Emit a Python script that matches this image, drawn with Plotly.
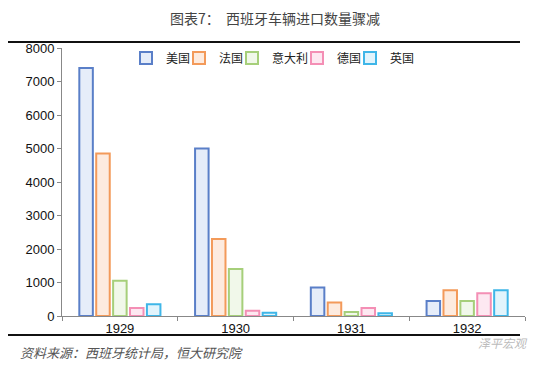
import plotly.graph_objects as go

years = ["1929", "1930", "1931", "1932"]
countries = ["美国", "法国", "意大利", "德国", "英国"]
usa = [7400, 5000, 850, 450]
france = [4850, 2300, 400, 770]
italy = [1050, 1400, 120, 450]
germany = [240, 160, 240, 680]
uk = [350, 100, 80, 770]
series = [usa, france, italy, germany, uk]

line_colors = ["#5a7fc8", "#f39a5a", "#a6cf7a", "#f48fb5", "#3fb6e8"]
fill_colors = ["#e6edf9", "#fdebdf", "#f1f8ea", "#fde8f1", "#e2f4fc"]
legend_ids = ["legend", "legend2", "legend3", "legend4", "legend5"]
legend_text_x = [166, 219, 272, 337, 390]

fig = go.Figure()
for name, vals, lc, fc, lg in zip(countries, series, line_colors, fill_colors, legend_ids):
    fig.add_trace(go.Bar(
        x=years, y=vals, name=name, legend=lg,
        marker=dict(color=fc, line=dict(color=lc, width=2)),
    ))

# page body has an 8px margin, so the figure is drawn 8px in from the top-left
OFF = 8
W, H = 542, 358
L, T = 62 - OFF, 48 - OFF
R = W - (525 - OFF)
B = H - (316 - OFF)
pw, ph = W - L - R, H - T - B

def px(x):
    return (x - OFF - L) / pw

def py(y):
    return (H - B - (y - OFF)) / ph

legends = {}
for lg, tx in zip(legend_ids, legend_text_x):
    legends[lg] = dict(orientation="h", x=px(tx - 40), y=py(58), xanchor="left", yanchor="middle",
                       font=dict(family="Noto Sans CJK SC", size=12, color="#222"),
                       itemwidth=30, bgcolor="rgba(0,0,0,0)")

fig.update_layout(
    width=W, height=H,
    margin=dict(l=L, r=R, t=T, b=B, autoexpand=False),
    paper_bgcolor="white", plot_bgcolor="white",
    barmode="group", bargap=0.27, bargroupgap=0.2,
    font=dict(family="Liberation Sans, Arial, sans-serif", color="#222"),
    showlegend=True,
    xaxis=dict(showline=True, linecolor="#888", linewidth=1, ticks="outside",
               tickson="boundaries", ticklen=4, tickcolor="#888",
               tickfont=dict(size=13, color="#111"), showgrid=False),
    yaxis=dict(range=[0, 8000], dtick=1000, showline=True, linecolor="#888", linewidth=1,
               ticks="outside", ticklen=4, tickcolor="#888", showgrid=False, zeroline=False,
               tickfont=dict(size=13, color="#111")),
    shapes=[
        dict(type="line", xref="paper", yref="paper", x0=px(8), x1=px(520), y0=py(42), y1=py(42),
             line=dict(color="#111", width=2)),
        dict(type="line", xref="paper", yref="paper", x0=px(8), x1=px(520), y0=py(335), y1=py(335),
             line=dict(color="#111", width=2)),
    ],
    annotations=[
        dict(text="图表7：  西班牙车辆进口数量骤减", xref="paper", yref="paper",
             x=px(275), y=py(18), xanchor="center", yanchor="middle", showarrow=False,
             font=dict(family="Noto Sans CJK SC", size=14, color="#444")),
        dict(text="<i>资料来源：西班牙统计局，恒大研究院</i>", xref="paper", yref="paper",
             x=px(18), y=py(352), xanchor="left", yanchor="middle", showarrow=False,
             font=dict(family="Noto Sans CJK SC", size=13, color="#555")),
        dict(text="<i>泽平宏观</i>", xref="paper", yref="paper",
             x=px(530), y=py(342), xanchor="right", yanchor="middle", showarrow=False,
             font=dict(family="Noto Sans CJK SC", size=12, color="#bbb")),
    ],
    **legends,
)

fig.write_html("out.html")
